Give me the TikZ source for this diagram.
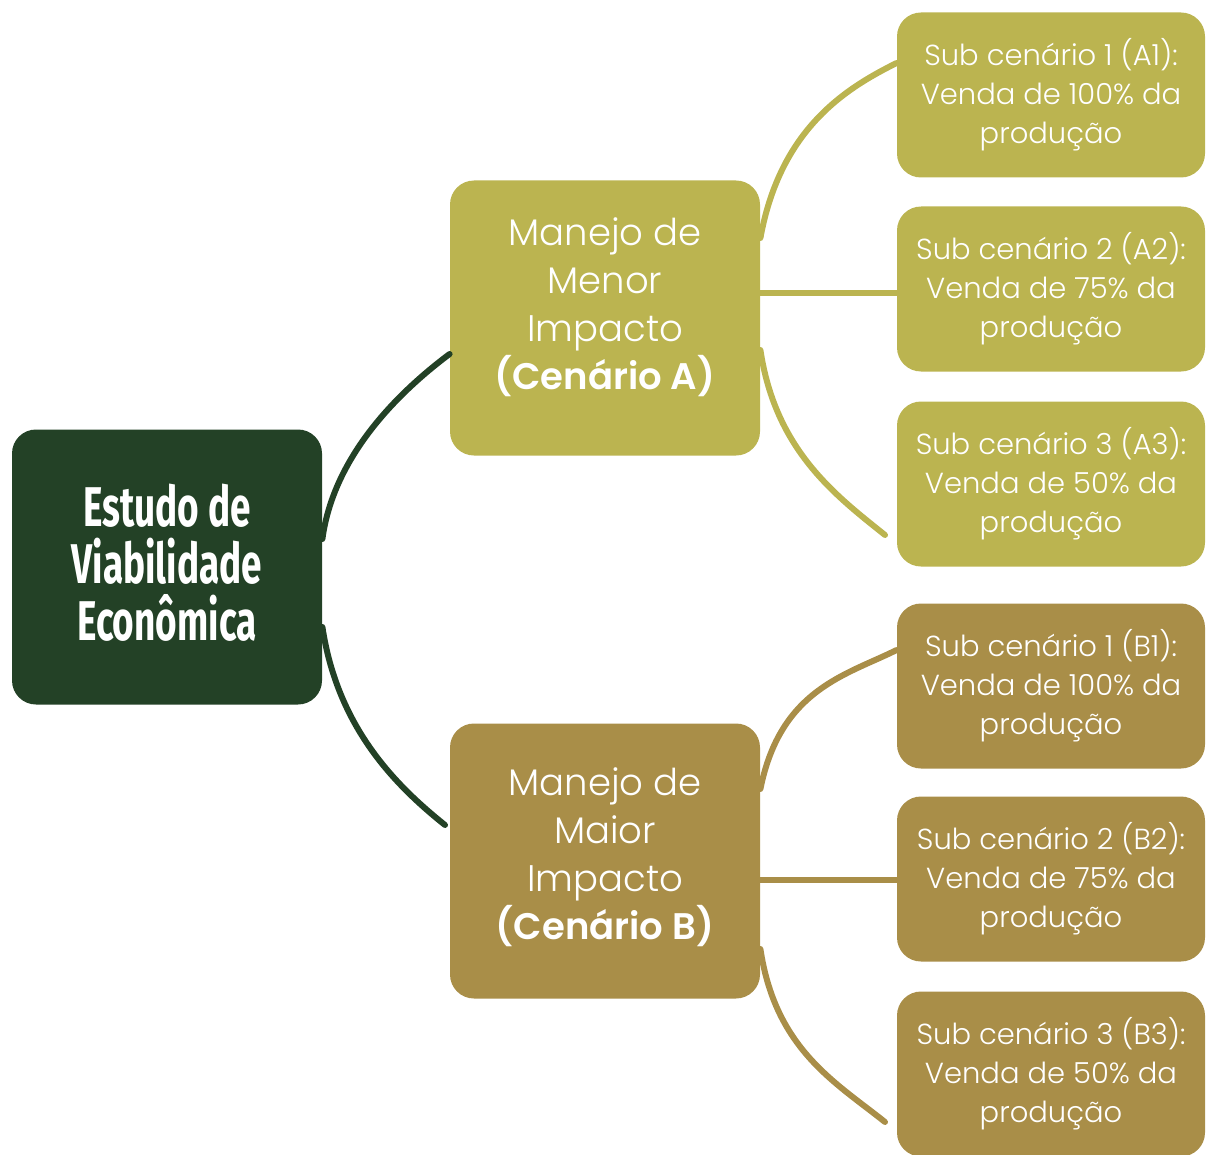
\documentclass[tikz,border=0pt]{standalone}
\usepackage{fontspec}
\setmainfont{Poppins}[UprightFont=* Light,BoldFont=* SemiBold]
\newfontfamily\titlefont{Fira Sans}[FakeStretch=0.66,UprightFont=* Bold]
\usetikzlibrary{positioning,calc}
\definecolor{rootgreen}{RGB}{35,65,38}
\definecolor{olive}{RGB}{187,180,80}
\definecolor{ochre}{RGB}{169,142,72}

\begin{document}
\begin{tikzpicture}[x=0.5pt,y=-0.5pt,
  rootbox/.style={fill=rootgreen,rounded corners=12pt,minimum width=155pt,minimum height=137.5pt,
    text=white,align=center,font=\titlefont\fontsize{28}{28.5}\selectfont,inner sep=0pt,text depth=5pt},
  scenario/.style={fill=olive,rounded corners=12pt,minimum width=155pt,minimum height=137.5pt,
    text=white,align=center,font=\fontsize{18.5}{24}\selectfont,inner sep=0pt,text depth=14pt},
  subbox/.style={fill=olive,rounded corners=12pt,minimum width=154pt,minimum height=82.5pt,
    text=white,align=center,font=\fontsize{14.5}{19.5}\selectfont,inner sep=0pt},
  link/.style={line width=3pt,draw=#1,line cap=round},
  link/.default=olive]
\useasboundingbox (0,0) rectangle (1209,1155);
\node[rootbox] (root) at (167,567) {Estudo de\\Viabilidade\\Econômica};
\node[scenario] (scenA) at (605,318) {Manejo de\\Menor\\Impacto\\\textbf{(Cenário A)}};
\node[scenario,fill=ochre,text depth=7pt] (scenB) at (605,861) {Manejo de\\Maior\\Impacto\\\textbf{(Cenário B)}};
\node[subbox] (subA1) at (1051,95) {Sub cenário 1 (A1):\\Venda de 100\% da\\produção};
\node[subbox] (subA2) at (1051,289) {Sub cenário 2 (A2):\\Venda de 75\% da\\produção};
\node[subbox] (subA3) at (1051,484) {Sub cenário 3 (A3):\\Venda de 50\% da\\produção};
\node[subbox,fill=ochre] (subB1) at (1051,686) {Sub cenário 1 (B1):\\Venda de 100\% da\\produção};
\node[subbox,fill=ochre] (subB2) at (1051,879) {Sub cenário 2 (B2):\\Venda de 75\% da\\produção};
\node[subbox,fill=ochre] (subB3) at (1051,1074) {Sub cenário 3 (B3):\\Venda de 50\% da\\produção};
\coordinate (endA3) at (885,535);
\coordinate (endB3) at (885,1122);
\coordinate (endB) at (445,825);
% root to scenarios
\draw[link=rootgreen] ([yshift=14pt]root.east) .. controls +(12,-90) and +(-40,30) .. ([yshift=-18pt]scenA.west);
\draw[link=rootgreen] ([yshift=-30pt]root.east) .. controls +(15,100) and +(-50,-40) .. (endB);
% scenario A to sub scenarios
\draw[link] ([yshift=40pt]scenA.east) .. controls +(20,-110) and +(-50,25) .. ([yshift=16pt]subA1.west);
\draw[link] ([yshift=12.5pt]scenA.east) -- ([yshift=-2pt]subA2.west);
\draw[link] ([yshift=-16pt]scenA.east) .. controls +(15,100) and +(-50,-40) .. (endA3);
% scenario B to sub scenarios
\draw[link=ochre] ([yshift=36pt]scenB.east) .. controls +(20,-100) and +(-50,25) .. ([yshift=18pt]subB1.west);
\draw[link=ochre] ([yshift=-9.5pt]scenB.east) -- ([yshift=-0.5pt]subB2.west);
\draw[link=ochre] ([yshift=-44pt]scenB.east) .. controls +(15,100) and +(-50,-40) .. (endB3);
\end{tikzpicture}
\end{document}
